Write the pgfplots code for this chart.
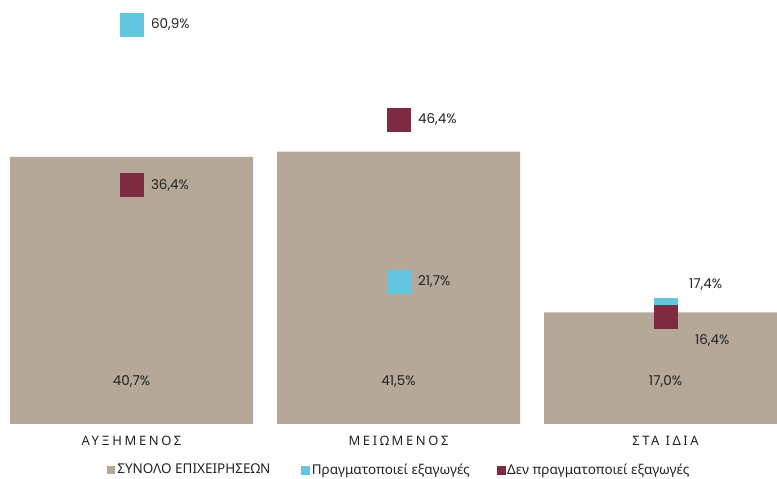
\documentclass[border=0pt]{standalone}
\usepackage{fontspec}
\setmainfont{Noto Sans}
\newfontfamily\numfont{Poppins}
\newfontfamily\catfont[LetterSpace=20]{Noto Sans}
\usepackage{pgfplots}
\usepackage{pgfplotstable}
\pgfplotsset{compat=1.18}
\definecolor{beige}{RGB}{181,168,152}
\definecolor{cyanx}{RGB}{99,198,222}
\definecolor{maroon}{RGB}{126,42,64}
\definecolor{txt}{RGB}{34,34,34}

\pgfplotstableread{
x y
0 40.7
1 41.5
2 17.0
}\totaltab
\pgfplotstableread{
x y dx dy
0 60.9 0 0
1 21.7 0 0
2 17.4 4 25
}\exptab
\pgfplotstableread{
x y dx dy
0 36.4 0 0
1 46.4 0 0
2 16.4 10 -24
}\noexptab

\begin{document}
\begin{tikzpicture}
\path[use as bounding box] (0,-55pt) rectangle (777pt,424pt);
\begin{axis}[
  at={(0,0)}, anchor=south west,
  scale only axis, width=777pt, height=424pt,
  xmin=-0.4925, xmax=2.4176, ymin=0, ymax=64.6,
  axis line style={draw=none}, tick style={draw=none},
  ytick=\empty, xtick={0,1,2},
  xticklabels={ΑΥΞΗΜΕΝΟΣ, ΜΕΙΩΜΕΝΟΣ, ΣΤΑ ΙΔΙΑ},
  xticklabel style={font=\catfont\fontsize{13}{15}\selectfont, text=txt, anchor=base, yshift=-22pt},
  /pgf/number format/.cd, fixed, fixed zerofill, precision=1, use comma, assume math mode=true,
  /pgfplots/.cd,
  legend columns=3,
  legend style={at={(0.514,-0.108)}, anchor=center, draw=none, fill=none,
    font=\fontsize{13.5}{15}\selectfont, text=txt, inner sep=0pt,
    nodes={inner sep=2pt}},
  nodes near coords style={text=txt, font=\numfont\fontsize{13.5}{15}\selectfont},
]
\addplot[ybar, bar width=243pt, fill=beige, draw=none,
  legend image code/.code={\fill[beige] (0pt,-4pt) rectangle (8pt,4pt);}]
  table[x=x,y=y]{\totaltab};
\addlegendentry{ΣΥΝΟΛΟ ΕΠΙΧΕΙΡΗΣΕΩΝ\hspace*{29pt}}
\addplot[draw=none, mark=none, forget plot,
  point meta=explicit,
  nodes near coords={\pgfmathprintnumber{\pgfplotspointmeta}\%},
  nodes near coords style={anchor=center}]
  table[x=x, y expr=6.4, meta=y]{\totaltab};
\addplot[only marks, mark=square*, mark size=11.5pt, color=cyanx,
  legend image code/.code={\fill[cyanx] (0pt,-4pt) rectangle (8pt,4pt);},
  visualization depends on={\thisrow{dx}\as\dx},
  visualization depends on={\thisrow{dy}\as\dy},
  point meta=y,
  nodes near coords={\pgfmathprintnumber{\pgfplotspointmeta}\%},
  nodes near coords style={anchor=west, xshift={(16+\dx)*1pt}, yshift={\dy*1pt}}]
  table[x=x,y=y]{\exptab};
\addlegendentry{Πραγματοποιεί εξαγωγές\hspace*{25pt}}
\addplot[only marks, mark=square*, mark size=11.5pt, color=maroon,
  legend image code/.code={\fill[maroon] (0pt,-4pt) rectangle (8pt,4pt);},
  visualization depends on={\thisrow{dx}\as\dx},
  visualization depends on={\thisrow{dy}\as\dy},
  point meta=y,
  nodes near coords={\pgfmathprintnumber{\pgfplotspointmeta}\%},
  nodes near coords style={anchor=west, xshift={(16+\dx)*1pt}, yshift={\dy*1pt}}]
  table[x=x,y=y]{\noexptab};
\addlegendentry{Δεν πραγματοποιεί εξαγωγές}
\end{axis}
\end{tikzpicture}
\end{document}
